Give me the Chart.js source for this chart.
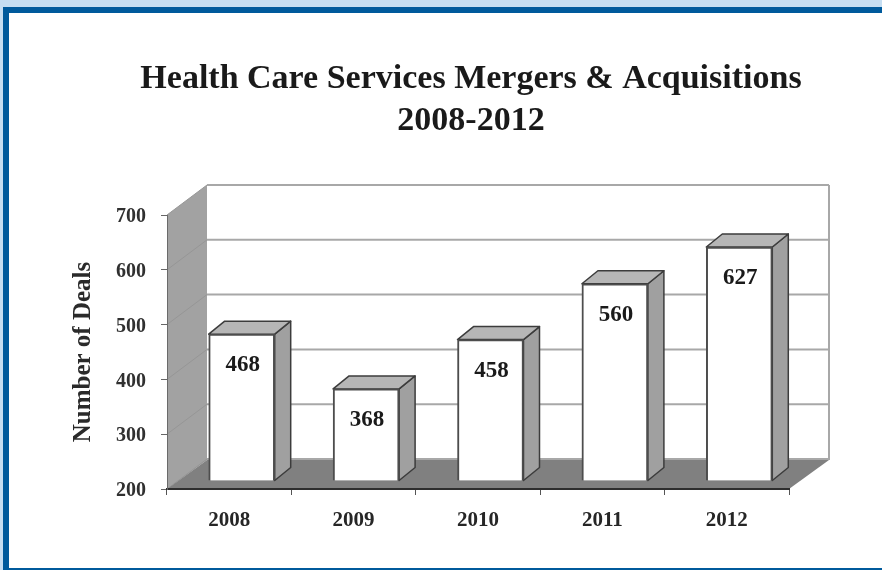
<!DOCTYPE html>
<html>
<head>
<meta charset="utf-8">
<title>Health Care Services Mergers &amp; Acquisitions</title>
<script src="https://cdn.jsdelivr.net/npm/chart.js@4"></script>
<style>
    html, body { margin: 0; padding: 0; width: 882px; height: 570px; overflow: hidden; background: #fff; }
    #frame { position: absolute; left: 0; top: 0; width: 882px; height: 570px; box-sizing: border-box;
             background: #c6def2; padding: 7px 0 0 3px; }
    #frame div { width: 100%; height: 100%; box-sizing: border-box; background: #fff;
                 border-top: 6px solid #005a9c; border-left: 6px solid #005a9c; border-bottom: 2px solid #005a9c; }
    #chart { position: absolute; left: 0; top: 0; }
</style>
</head>
<body>
<div id="frame"><div></div></div>
<canvas id="chart" width="882" height="570"></canvas>
<script>
const years = ['2008', '2009', '2010', '2011', '2012'];
const deals = [468, 368, 458, 560, 627];
const yMin = 200;
const yMax = 700;
const yStep = 100;
const titleLines = ['Health Care Services Mergers & Acquisitions', '2008-2012'];
const yAxisTitle = 'Number of Deals';

const serif = '"Liberation Serif", serif';

// depth of the room behind the axes, and of each box
const wallDX = 40, wallDY = 29;
const barDX = 16, barDY = 13;
// boxes stand a little way in from the front edge of the floor
const barShiftX = 12.5, barShiftY = -8;

function poly(ctx, pts, fill, stroke, width) {
    ctx.beginPath();
    pts.forEach((p, i) => i ? ctx.lineTo(p[0], p[1]) : ctx.moveTo(p[0], p[1]));
    ctx.closePath();
    if (fill) { ctx.fillStyle = fill; ctx.fill(); }
    if (stroke) { ctx.strokeStyle = stroke; ctx.lineWidth = width; ctx.lineJoin = 'round'; ctx.stroke(); }
}

const room = {
    id: 'room',
    afterLayout(chart) {
        // centre the title over the room rather than the whole canvas
        chart.titleBlock.left += 76.5;
        chart.titleBlock.right += 76.5;
    },
    beforeDraw(chart) {
        const ctx = chart.ctx, y = chart.scales.y;
        const { left, right, top, bottom } = chart.chartArea;
        ctx.save();
        poly(ctx, [[left, top], [left + wallDX, top - wallDY - 1], [left + wallDX, bottom - wallDY], [left, bottom]], '#a2a2a2');
        // grid lines run across the back wall and fold down the side wall
        y.ticks.forEach(t => {
            const py = y.getPixelForValue(t.value);
            ctx.beginPath();
            ctx.moveTo(left, py);
            ctx.lineTo(left + wallDX, py - wallDY - 1);
            ctx.strokeStyle = '#969696';
            ctx.lineWidth = 1;
            ctx.stroke();
            ctx.beginPath();
            ctx.moveTo(left + wallDX, py - wallDY - 1);
            ctx.lineTo(right + wallDX, py - wallDY - 1);
            ctx.strokeStyle = '#a8a8a8';
            ctx.lineWidth = 2;
            ctx.stroke();
        });
        ctx.beginPath();
        ctx.moveTo(right + wallDX, top - wallDY - 1);
        ctx.lineTo(right + wallDX, bottom - wallDY);
        ctx.strokeStyle = '#a8a8a8';
        ctx.lineWidth = 2;
        ctx.stroke();
        poly(ctx, [[left, bottom], [left + wallDX, bottom - wallDY], [right + wallDX, bottom - wallDY], [right, bottom]], '#808080');
        ctx.restore();
    },
    beforeDatasetsDraw(chart) {
        const ctx = chart.ctx;
        ctx.save();
        ctx.translate(barShiftX, barShiftY);
        chart.getDatasetMeta(0).data.forEach(bar => {
            const { x, y, base, width } = bar.getProps(['x', 'y', 'base', 'width'], true);
            const x1 = x - width / 2, x2 = x + width / 2;
            poly(ctx, [[x2, y], [x2 + barDX, y - barDY], [x2 + barDX, base - barDY], [x2, base]], '#a0a0a0', '#3c3c3c', 1.5);
            poly(ctx, [[x1, y], [x1 + barDX, y - barDY], [x2 + barDX, y - barDY], [x2, y]], '#b6b6b6', '#3c3c3c', 1.5);
        });
    },
    afterDatasetsDraw(chart) {
        const ctx = chart.ctx;
        ctx.fillStyle = '#1a1a1a';
        ctx.font = 'bold 23px ' + serif;
        ctx.textAlign = 'center';
        ctx.textBaseline = 'middle';
        chart.getDatasetMeta(0).data.forEach((bar, i) => {
            ctx.fillText(String(deals[i]), bar.x + 1, bar.y + 31);
        });
        ctx.restore();
    }
};

new Chart(document.getElementById('chart'), {
    type: 'bar',
    data: {
        labels: years,
        datasets: [{
            data: deals,
            base: yMin,
            backgroundColor: '#ffffff',
            borderColor: '#4d4d4d',
            borderWidth: 2,
            barThickness: 66
        }]
    },
    options: {
        responsive: false,
        animation: false,
        layout: { padding: { right: 93 } },
        plugins: {
            legend: { display: false },
            tooltip: { enabled: false },
            title: {
                display: true,
                text: titleLines,
                color: '#1a1a1a',
                font: { family: serif, size: 34, weight: 'bold', lineHeight: 42 / 34 },
                padding: { top: 58, bottom: 73 }
            }
        },
        scales: {
            x: {
                afterFit(axis) { axis.height = 81; },
                border: { color: '#2e2e2e', width: 2 },
                grid: { drawOnChartArea: false, tickLength: 6, tickColor: '#555555' },
                ticks: { color: '#262626', padding: 13, maxRotation: 0, font: { family: serif, size: 21, weight: 'bold' } }
            },
            y: {
                min: yMin,
                max: yMax,
                afterFit(axis) { axis.width = 167; },
                border: { color: '#6a6a6a', width: 1 },
                grid: { drawOnChartArea: false, tickLength: 6, tickColor: '#666666' },
                ticks: { stepSize: yStep, color: '#303030', padding: 15, labelOffset: 2, font: { family: serif, size: 20, weight: 'bold' } },
                title: {
                    display: true,
                    text: yAxisTitle,
                    color: '#2a2a2a',
                    font: { family: serif, size: 25, weight: 'bold' },
                    padding: { top: 69, bottom: 0 }
                }
            }
        }
    },
    plugins: [room]
});
</script>
</body>
</html>
